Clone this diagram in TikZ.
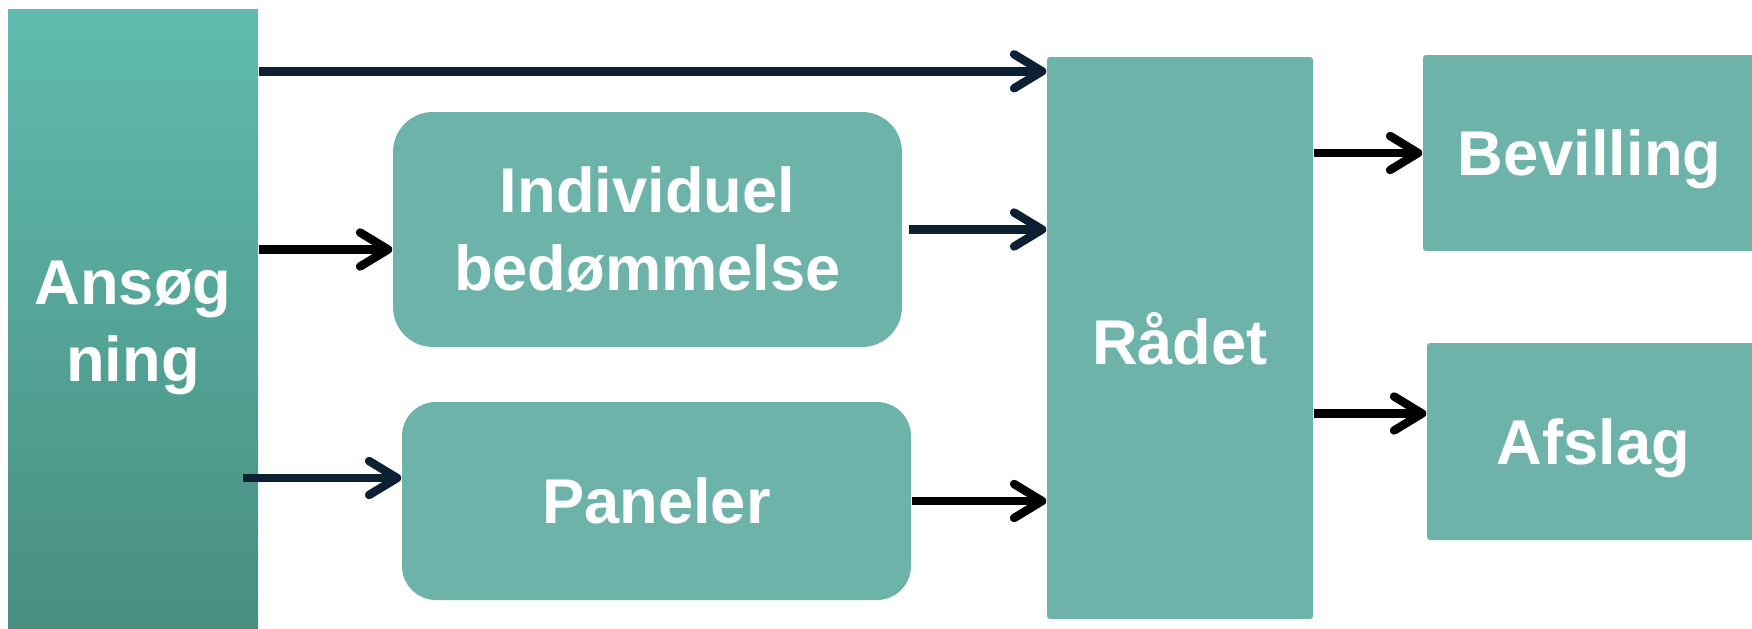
\documentclass[tikz,border=0pt]{standalone}
\usepackage{fontspec}
\setmainfont{Liberation Sans}
\usepackage{xcolor}
\usetikzlibrary{arrows.meta}

\definecolor{boxteal}{RGB}{110,179,169}
\definecolor{gradtop}{RGB}{96,188,174}
\definecolor{gradbot}{RGB}{72,140,128}
\definecolor{navyline}{RGB}{12,31,51}

\begin{document}
\begin{tikzpicture}[
    box/.style={rectangle, fill=boxteal, text=white, font=\bfseries\fontsize{18}{22}\selectfont, align=center, inner sep=0pt},
    roundbox/.style={box, rounded corners=4mm},
    flatbox/.style={box, rounded corners=0.3mm, text depth=0pt},
    startbox/.style={box, top color=gradtop, bottom color=gradbot},
    arrow/.style={-{Straight Barb[length=2.8mm, width=3.4mm, round]}, line width=2.4pt, black},
    navyarrow/.style={arrow, navyline}
]
\useasboundingbox (0,0) rectangle (17.52,6.28);
\clip (0,0) rectangle (17.52,6.28);

\node[startbox, minimum width=2.5cm, minimum height=6.38cm] (ansoegning) at (1.33,3.00) {Ansøg\\ning};
\node[roundbox, minimum width=5.09cm, minimum height=2.35cm] (individuel) at (6.475,3.985) {Individuel\\bedømmelse};
\node[roundbox, rounded corners=3.4mm, minimum width=5.09cm, minimum height=1.98cm] (paneler) at (6.565,1.27) {Paneler};
\node[flatbox, minimum width=2.66cm, minimum height=5.62cm] (raadet) at (11.80,2.90) {Rådet};
\node[flatbox, minimum width=3.33cm, minimum height=1.96cm] (bevilling) at (15.895,4.75) {Bevilling};
\node[flatbox, minimum width=3.33cm, minimum height=1.97cm] (afslag) at (15.935,1.865) {Afslag};

% entry points
\coordinate (r1) at ([yshift=-1.5mm]raadet.north west);
\coordinate (i1) at ([yshift=-2mm]individuel.west);
\coordinate (p1) at ([yshift=2.3mm]paneler.west);
\coordinate (a1) at ([yshift=2.8mm]afslag.west);

\draw[navyarrow] (ansoegning.east |- r1) -- (r1);
\draw[arrow] (ansoegning.east |- i1) -- (i1);
\draw[navyarrow] (ansoegning.east |- p1) ++(-0.16,0) -- (p1);
\draw[navyarrow] (individuel.east) ++(0.06,0) -- (raadet.west |- individuel.east);
\draw[arrow] (paneler.east) -- (raadet.west |- paneler.east);
\draw[arrow] (raadet.east |- bevilling.west) -- (bevilling.west);
\draw[arrow] (raadet.east |- a1) -- (a1);

\end{tikzpicture}
\end{document}
